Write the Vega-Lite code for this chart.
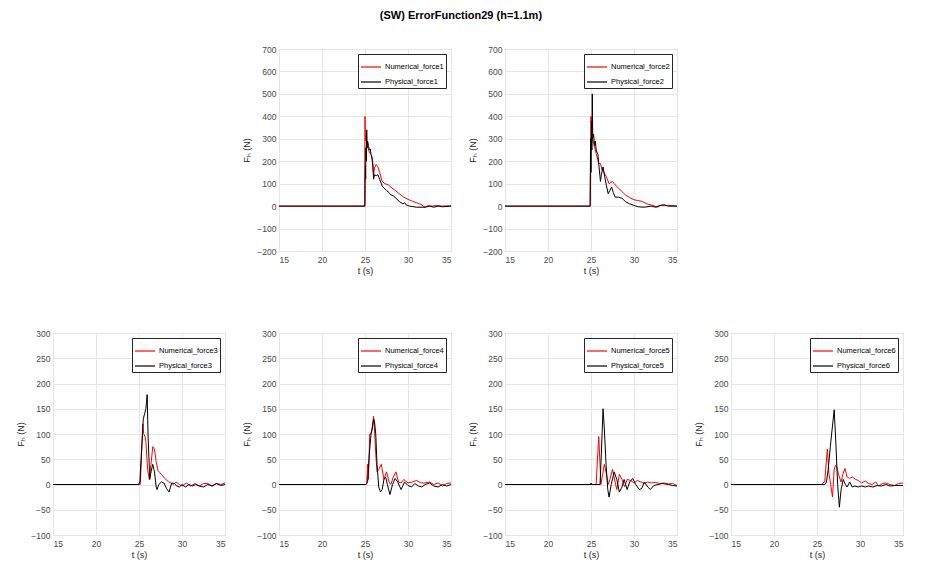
{
  "$schema": "https://vega.github.io/schema/vega-lite/v6.json",
  "padding": {"left": 16, "top": 9, "right": 5, "bottom": 5},
  "background": "white",
  "title": {"text": "(SW) ErrorFunction29 (h=1.1m)", "fontSize": 11, "fontWeight": "bold", "font": "Liberation Sans", "color": "#000000", "anchor": "middle", "offset": 24},
  "config": {
    "view": {"stroke": "#9a9a9a", "strokeWidth": 1},
    "axis": {"labelFont": "Liberation Sans", "labelFontSize": 8.5, "labelColor": "#4a4a4a", "titleFont": "Liberation Sans", "titleFontSize": 9, "titleFontWeight": "normal", "titleColor": "#262626", "grid": true, "gridColor": "#e6e6e6", "gridWidth": 1, "domain": false, "ticks": false, "labelPadding": 4},
    "axisX": {"titlePadding": 3},
    "axisY": {"titlePadding": 5, "labelPadding": 3},
    "legend": {"orient": "top-right", "offset": 5, "strokeColor": "#262626", "fillColor": "white", "padding": 2, "title": null, "labelFont": "Liberation Sans", "labelFontSize": 7.5, "labelColor": "#000000", "symbolType": "stroke", "symbolSize": 400, "symbolStrokeWidth": 1.2, "rowPadding": 0, "labelOffset": 3, "cornerRadius": 0}
  },
  "datasets": {
    "p1": [
      {"s":"Numerical_force1","t":15,"f":0},{"s":"Numerical_force1","t":24.95,"f":0},{"s":"Numerical_force1","t":25.0,"f":400},{"s":"Numerical_force1","t":25.05,"f":290},{"s":"Numerical_force1","t":25.1,"f":320},{"s":"Numerical_force1","t":25.2,"f":270},{"s":"Numerical_force1","t":25.35,"f":260},{"s":"Numerical_force1","t":25.5,"f":240},{"s":"Numerical_force1","t":25.7,"f":230},{"s":"Numerical_force1","t":25.9,"f":200},{"s":"Numerical_force1","t":26.0,"f":140},{"s":"Numerical_force1","t":26.1,"f":170},{"s":"Numerical_force1","t":26.3,"f":185},{"s":"Numerical_force1","t":26.5,"f":175},{"s":"Numerical_force1","t":26.7,"f":150},{"s":"Numerical_force1","t":27.0,"f":110},{"s":"Numerical_force1","t":27.3,"f":100},{"s":"Numerical_force1","t":27.7,"f":95},{"s":"Numerical_force1","t":28.0,"f":85},{"s":"Numerical_force1","t":28.5,"f":70},{"s":"Numerical_force1","t":29.0,"f":55},{"s":"Numerical_force1","t":29.5,"f":40},{"s":"Numerical_force1","t":30.0,"f":30},{"s":"Numerical_force1","t":30.5,"f":22},{"s":"Numerical_force1","t":31.0,"f":15},{"s":"Numerical_force1","t":31.5,"f":8},{"s":"Numerical_force1","t":32.0,"f":-5},{"s":"Numerical_force1","t":32.3,"f":2},{"s":"Numerical_force1","t":32.8,"f":0},{"s":"Numerical_force1","t":33.3,"f":3},{"s":"Numerical_force1","t":34,"f":0},{"s":"Numerical_force1","t":35,"f":2},
      {"s":"Physical_force1","t":15,"f":0},{"s":"Physical_force1","t":25.0,"f":0},{"s":"Physical_force1","t":25.02,"f":100},{"s":"Physical_force1","t":25.05,"f":180},{"s":"Physical_force1","t":25.08,"f":120},{"s":"Physical_force1","t":25.1,"f":260},{"s":"Physical_force1","t":25.15,"f":200},{"s":"Physical_force1","t":25.2,"f":340},{"s":"Physical_force1","t":25.25,"f":260},{"s":"Physical_force1","t":25.3,"f":290},{"s":"Physical_force1","t":25.4,"f":270},{"s":"Physical_force1","t":25.5,"f":250},{"s":"Physical_force1","t":25.6,"f":255},{"s":"Physical_force1","t":25.7,"f":230},{"s":"Physical_force1","t":25.8,"f":220},{"s":"Physical_force1","t":25.9,"f":180},{"s":"Physical_force1","t":26.0,"f":120},{"s":"Physical_force1","t":26.1,"f":140},{"s":"Physical_force1","t":26.3,"f":135},{"s":"Physical_force1","t":26.5,"f":140},{"s":"Physical_force1","t":26.7,"f":120},{"s":"Physical_force1","t":27.0,"f":90},{"s":"Physical_force1","t":27.2,"f":80},{"s":"Physical_force1","t":27.5,"f":70},{"s":"Physical_force1","t":27.8,"f":60},{"s":"Physical_force1","t":28.0,"f":50},{"s":"Physical_force1","t":28.3,"f":45},{"s":"Physical_force1","t":28.6,"f":35},{"s":"Physical_force1","t":29.0,"f":20},{"s":"Physical_force1","t":29.4,"f":10},{"s":"Physical_force1","t":29.6,"f":15},{"s":"Physical_force1","t":29.8,"f":5},{"s":"Physical_force1","t":30.2,"f":0},{"s":"Physical_force1","t":31,"f":-5},{"s":"Physical_force1","t":32,"f":-5},{"s":"Physical_force1","t":32.5,"f":0},{"s":"Physical_force1","t":33,"f":-5},{"s":"Physical_force1","t":33.5,"f":0},{"s":"Physical_force1","t":34,"f":-3},{"s":"Physical_force1","t":35,"f":0}
    ],
    "p2": [
      {"s":"Numerical_force2","t":15,"f":0},{"s":"Numerical_force2","t":24.9,"f":0},{"s":"Numerical_force2","t":25.0,"f":400},{"s":"Numerical_force2","t":25.05,"f":280},{"s":"Numerical_force2","t":25.15,"f":300},{"s":"Numerical_force2","t":25.3,"f":280},{"s":"Numerical_force2","t":25.5,"f":250},{"s":"Numerical_force2","t":25.7,"f":220},{"s":"Numerical_force2","t":25.9,"f":190},{"s":"Numerical_force2","t":26.1,"f":190},{"s":"Numerical_force2","t":26.3,"f":160},{"s":"Numerical_force2","t":26.5,"f":150},{"s":"Numerical_force2","t":26.8,"f":130},{"s":"Numerical_force2","t":27.1,"f":100},{"s":"Numerical_force2","t":27.5,"f":110},{"s":"Numerical_force2","t":27.8,"f":95},{"s":"Numerical_force2","t":28.2,"f":80},{"s":"Numerical_force2","t":28.6,"f":65},{"s":"Numerical_force2","t":29.0,"f":50},{"s":"Numerical_force2","t":29.5,"f":38},{"s":"Numerical_force2","t":30.0,"f":28},{"s":"Numerical_force2","t":30.5,"f":25},{"s":"Numerical_force2","t":31.0,"f":20},{"s":"Numerical_force2","t":31.5,"f":10},{"s":"Numerical_force2","t":32.0,"f":5},{"s":"Numerical_force2","t":32.4,"f":0},{"s":"Numerical_force2","t":32.7,"f":-5},{"s":"Numerical_force2","t":33.2,"f":5},{"s":"Numerical_force2","t":34,"f":3},{"s":"Numerical_force2","t":35,"f":0},
      {"s":"Physical_force2","t":15,"f":0},{"s":"Physical_force2","t":24.9,"f":0},{"s":"Physical_force2","t":24.95,"f":300},{"s":"Physical_force2","t":25.0,"f":150},{"s":"Physical_force2","t":25.05,"f":380},{"s":"Physical_force2","t":25.1,"f":250},{"s":"Physical_force2","t":25.15,"f":500},{"s":"Physical_force2","t":25.2,"f":300},{"s":"Physical_force2","t":25.3,"f":320},{"s":"Physical_force2","t":25.4,"f":270},{"s":"Physical_force2","t":25.5,"f":290},{"s":"Physical_force2","t":25.6,"f":250},{"s":"Physical_force2","t":25.8,"f":230},{"s":"Physical_force2","t":25.95,"f":170},{"s":"Physical_force2","t":26.1,"f":110},{"s":"Physical_force2","t":26.2,"f":140},{"s":"Physical_force2","t":26.4,"f":175},{"s":"Physical_force2","t":26.6,"f":130},{"s":"Physical_force2","t":26.8,"f":90},{"s":"Physical_force2","t":27.0,"f":55},{"s":"Physical_force2","t":27.2,"f":70},{"s":"Physical_force2","t":27.4,"f":85},{"s":"Physical_force2","t":27.6,"f":60},{"s":"Physical_force2","t":27.8,"f":40},{"s":"Physical_force2","t":28.2,"f":40},{"s":"Physical_force2","t":28.6,"f":35},{"s":"Physical_force2","t":29.0,"f":20},{"s":"Physical_force2","t":29.5,"f":10},{"s":"Physical_force2","t":30.0,"f":3},{"s":"Physical_force2","t":30.5,"f":-3},{"s":"Physical_force2","t":31.2,"f":-5},{"s":"Physical_force2","t":32,"f":0},{"s":"Physical_force2","t":32.5,"f":-5},{"s":"Physical_force2","t":33.0,"f":3},{"s":"Physical_force2","t":33.5,"f":5},{"s":"Physical_force2","t":34,"f":0},{"s":"Physical_force2","t":35,"f":0}
    ],
    "p3": [
      {"s":"Numerical_force3","t":15,"f":0},{"s":"Numerical_force3","t":25.15,"f":0},{"s":"Numerical_force3","t":25.3,"f":60},{"s":"Numerical_force3","t":25.45,"f":120},{"s":"Numerical_force3","t":25.55,"f":100},{"s":"Numerical_force3","t":25.7,"f":95},{"s":"Numerical_force3","t":25.8,"f":85},{"s":"Numerical_force3","t":26.0,"f":30},{"s":"Numerical_force3","t":26.2,"f":10},{"s":"Numerical_force3","t":26.4,"f":40},{"s":"Numerical_force3","t":26.6,"f":75},{"s":"Numerical_force3","t":26.8,"f":70},{"s":"Numerical_force3","t":27.0,"f":45},{"s":"Numerical_force3","t":27.2,"f":28},{"s":"Numerical_force3","t":27.6,"f":20},{"s":"Numerical_force3","t":28.0,"f":12},{"s":"Numerical_force3","t":28.4,"f":6},{"s":"Numerical_force3","t":28.8,"f":2},{"s":"Numerical_force3","t":29.0,"f":0},{"s":"Numerical_force3","t":29.3,"f":5},{"s":"Numerical_force3","t":29.7,"f":0},{"s":"Numerical_force3","t":30.0,"f":-3},{"s":"Numerical_force3","t":30.5,"f":3},{"s":"Numerical_force3","t":31.0,"f":-3},{"s":"Numerical_force3","t":31.5,"f":2},{"s":"Numerical_force3","t":32.0,"f":-3},{"s":"Numerical_force3","t":32.5,"f":2},{"s":"Numerical_force3","t":33.0,"f":2},{"s":"Numerical_force3","t":33.5,"f":-3},{"s":"Numerical_force3","t":34.0,"f":2},{"s":"Numerical_force3","t":34.5,"f":0},{"s":"Numerical_force3","t":35,"f":3},
      {"s":"Physical_force3","t":15,"f":0},{"s":"Physical_force3","t":24.95,"f":0},{"s":"Physical_force3","t":25.1,"f":5},{"s":"Physical_force3","t":25.3,"f":70},{"s":"Physical_force3","t":25.5,"f":130},{"s":"Physical_force3","t":25.65,"f":140},{"s":"Physical_force3","t":25.8,"f":150},{"s":"Physical_force3","t":25.95,"f":178},{"s":"Physical_force3","t":26.05,"f":100},{"s":"Physical_force3","t":26.25,"f":10},{"s":"Physical_force3","t":26.4,"f":25},{"s":"Physical_force3","t":26.6,"f":40},{"s":"Physical_force3","t":26.8,"f":25},{"s":"Physical_force3","t":27.0,"f":-5},{"s":"Physical_force3","t":27.1,"f":-10},{"s":"Physical_force3","t":27.3,"f":0},{"s":"Physical_force3","t":27.6,"f":5},{"s":"Physical_force3","t":27.9,"f":3},{"s":"Physical_force3","t":28.2,"f":-8},{"s":"Physical_force3","t":28.5,"f":-15},{"s":"Physical_force3","t":28.8,"f":3},{"s":"Physical_force3","t":29.1,"f":2},{"s":"Physical_force3","t":29.4,"f":-3},{"s":"Physical_force3","t":29.7,"f":-5},{"s":"Physical_force3","t":30.0,"f":0},{"s":"Physical_force3","t":30.4,"f":-5},{"s":"Physical_force3","t":30.8,"f":0},{"s":"Physical_force3","t":31.2,"f":-3},{"s":"Physical_force3","t":31.6,"f":0},{"s":"Physical_force3","t":32.0,"f":-3},{"s":"Physical_force3","t":32.5,"f":-5},{"s":"Physical_force3","t":33.0,"f":0},{"s":"Physical_force3","t":33.5,"f":-3},{"s":"Physical_force3","t":34.0,"f":2},{"s":"Physical_force3","t":34.5,"f":-2},{"s":"Physical_force3","t":35,"f":0}
    ],
    "p4": [
      {"s":"Numerical_force4","t":15,"f":0},{"s":"Numerical_force4","t":25.2,"f":0},{"s":"Numerical_force4","t":25.3,"f":40},{"s":"Numerical_force4","t":25.4,"f":10},{"s":"Numerical_force4","t":25.55,"f":100},{"s":"Numerical_force4","t":25.7,"f":100},{"s":"Numerical_force4","t":25.85,"f":115},{"s":"Numerical_force4","t":26.0,"f":135},{"s":"Numerical_force4","t":26.1,"f":110},{"s":"Numerical_force4","t":26.25,"f":60},{"s":"Numerical_force4","t":26.4,"f":25},{"s":"Numerical_force4","t":26.6,"f":30},{"s":"Numerical_force4","t":26.9,"f":40},{"s":"Numerical_force4","t":27.2,"f":10},{"s":"Numerical_force4","t":27.5,"f":25},{"s":"Numerical_force4","t":27.8,"f":5},{"s":"Numerical_force4","t":28.0,"f":0},{"s":"Numerical_force4","t":28.3,"f":15},{"s":"Numerical_force4","t":28.6,"f":25},{"s":"Numerical_force4","t":28.9,"f":5},{"s":"Numerical_force4","t":29.2,"f":3},{"s":"Numerical_force4","t":29.5,"f":10},{"s":"Numerical_force4","t":30.0,"f":3},{"s":"Numerical_force4","t":30.5,"f":5},{"s":"Numerical_force4","t":31.0,"f":8},{"s":"Numerical_force4","t":31.5,"f":3},{"s":"Numerical_force4","t":32.0,"f":3},{"s":"Numerical_force4","t":32.5,"f":5},{"s":"Numerical_force4","t":33.0,"f":0},{"s":"Numerical_force4","t":33.5,"f":3},{"s":"Numerical_force4","t":34.0,"f":-3},{"s":"Numerical_force4","t":34.5,"f":2},{"s":"Numerical_force4","t":35,"f":3},
      {"s":"Physical_force4","t":15,"f":0},{"s":"Physical_force4","t":25.1,"f":0},{"s":"Physical_force4","t":25.3,"f":5},{"s":"Physical_force4","t":25.5,"f":60},{"s":"Physical_force4","t":25.7,"f":100},{"s":"Physical_force4","t":25.85,"f":110},{"s":"Physical_force4","t":26.0,"f":130},{"s":"Physical_force4","t":26.1,"f":125},{"s":"Physical_force4","t":26.25,"f":100},{"s":"Physical_force4","t":26.4,"f":40},{"s":"Physical_force4","t":26.6,"f":-5},{"s":"Physical_force4","t":26.8,"f":-15},{"s":"Physical_force4","t":27.0,"f":-10},{"s":"Physical_force4","t":27.2,"f":10},{"s":"Physical_force4","t":27.4,"f":15},{"s":"Physical_force4","t":27.6,"f":0},{"s":"Physical_force4","t":27.9,"f":-20},{"s":"Physical_force4","t":28.2,"f":0},{"s":"Physical_force4","t":28.5,"f":12},{"s":"Physical_force4","t":28.8,"f":5},{"s":"Physical_force4","t":29.2,"f":-10},{"s":"Physical_force4","t":29.6,"f":5},{"s":"Physical_force4","t":30.0,"f":-2},{"s":"Physical_force4","t":30.4,"f":-5},{"s":"Physical_force4","t":30.8,"f":2},{"s":"Physical_force4","t":31.2,"f":-3},{"s":"Physical_force4","t":31.6,"f":-5},{"s":"Physical_force4","t":32.0,"f":0},{"s":"Physical_force4","t":32.5,"f":3},{"s":"Physical_force4","t":33.0,"f":-3},{"s":"Physical_force4","t":33.5,"f":-5},{"s":"Physical_force4","t":34.0,"f":0},{"s":"Physical_force4","t":34.5,"f":-3},{"s":"Physical_force4","t":35,"f":0}
    ],
    "p5": [
      {"s":"Numerical_force5","t":15,"f":0},{"s":"Numerical_force5","t":25.6,"f":0},{"s":"Numerical_force5","t":25.75,"f":50},{"s":"Numerical_force5","t":25.9,"f":95},{"s":"Numerical_force5","t":26.05,"f":40},{"s":"Numerical_force5","t":26.15,"f":0},{"s":"Numerical_force5","t":26.35,"f":20},{"s":"Numerical_force5","t":26.55,"f":40},{"s":"Numerical_force5","t":26.8,"f":20},{"s":"Numerical_force5","t":27.0,"f":0},{"s":"Numerical_force5","t":27.2,"f":10},{"s":"Numerical_force5","t":27.5,"f":30},{"s":"Numerical_force5","t":27.8,"f":5},{"s":"Numerical_force5","t":28.0,"f":-10},{"s":"Numerical_force5","t":28.3,"f":20},{"s":"Numerical_force5","t":28.6,"f":10},{"s":"Numerical_force5","t":28.9,"f":-5},{"s":"Numerical_force5","t":29.2,"f":10},{"s":"Numerical_force5","t":29.6,"f":8},{"s":"Numerical_force5","t":30.0,"f":3},{"s":"Numerical_force5","t":30.4,"f":8},{"s":"Numerical_force5","t":30.8,"f":5},{"s":"Numerical_force5","t":31.2,"f":2},{"s":"Numerical_force5","t":31.6,"f":5},{"s":"Numerical_force5","t":32.0,"f":3},{"s":"Numerical_force5","t":32.5,"f":4},{"s":"Numerical_force5","t":33.0,"f":2},{"s":"Numerical_force5","t":33.5,"f":3},{"s":"Numerical_force5","t":34.0,"f":1},{"s":"Numerical_force5","t":34.5,"f":2},{"s":"Numerical_force5","t":35,"f":-2},
      {"s":"Physical_force5","t":15,"f":0},{"s":"Physical_force5","t":24.95,"f":0},{"s":"Physical_force5","t":25.0,"f":3},{"s":"Physical_force5","t":25.05,"f":0},{"s":"Physical_force5","t":26.05,"f":0},{"s":"Physical_force5","t":26.2,"f":60},{"s":"Physical_force5","t":26.4,"f":150},{"s":"Physical_force5","t":26.55,"f":110},{"s":"Physical_force5","t":26.75,"f":40},{"s":"Physical_force5","t":26.95,"f":-10},{"s":"Physical_force5","t":27.1,"f":-25},{"s":"Physical_force5","t":27.35,"f":0},{"s":"Physical_force5","t":27.7,"f":25},{"s":"Physical_force5","t":28.0,"f":10},{"s":"Physical_force5","t":28.3,"f":-15},{"s":"Physical_force5","t":28.6,"f":-5},{"s":"Physical_force5","t":28.85,"f":10},{"s":"Physical_force5","t":29.2,"f":-10},{"s":"Physical_force5","t":29.5,"f":5},{"s":"Physical_force5","t":29.85,"f":12},{"s":"Physical_force5","t":30.2,"f":0},{"s":"Physical_force5","t":30.6,"f":-10},{"s":"Physical_force5","t":30.9,"f":-8},{"s":"Physical_force5","t":31.2,"f":5},{"s":"Physical_force5","t":31.6,"f":-5},{"s":"Physical_force5","t":31.9,"f":-10},{"s":"Physical_force5","t":32.3,"f":-2},{"s":"Physical_force5","t":32.8,"f":0},{"s":"Physical_force5","t":33.3,"f":2},{"s":"Physical_force5","t":34.0,"f":0},{"s":"Physical_force5","t":34.5,"f":-2},{"s":"Physical_force5","t":35,"f":-3}
    ],
    "p6": [
      {"s":"Numerical_force6","t":15,"f":0},{"s":"Numerical_force6","t":25.6,"f":0},{"s":"Numerical_force6","t":25.8,"f":5},{"s":"Numerical_force6","t":25.9,"f":5},{"s":"Numerical_force6","t":26.2,"f":70},{"s":"Numerical_force6","t":26.4,"f":20},{"s":"Numerical_force6","t":26.6,"f":0},{"s":"Numerical_force6","t":26.8,"f":-25},{"s":"Numerical_force6","t":27.0,"f":30},{"s":"Numerical_force6","t":27.15,"f":38},{"s":"Numerical_force6","t":27.3,"f":35},{"s":"Numerical_force6","t":27.5,"f":20},{"s":"Numerical_force6","t":27.8,"f":5},{"s":"Numerical_force6","t":28.0,"f":20},{"s":"Numerical_force6","t":28.25,"f":32},{"s":"Numerical_force6","t":28.5,"f":15},{"s":"Numerical_force6","t":28.8,"f":12},{"s":"Numerical_force6","t":29.1,"f":15},{"s":"Numerical_force6","t":29.5,"f":10},{"s":"Numerical_force6","t":29.8,"f":8},{"s":"Numerical_force6","t":30.2,"f":3},{"s":"Numerical_force6","t":30.6,"f":7},{"s":"Numerical_force6","t":31.0,"f":2},{"s":"Numerical_force6","t":31.4,"f":0},{"s":"Numerical_force6","t":31.8,"f":5},{"s":"Numerical_force6","t":32.2,"f":-3},{"s":"Numerical_force6","t":32.6,"f":2},{"s":"Numerical_force6","t":33.0,"f":3},{"s":"Numerical_force6","t":33.5,"f":0},{"s":"Numerical_force6","t":34.0,"f":-2},{"s":"Numerical_force6","t":34.5,"f":2},{"s":"Numerical_force6","t":35,"f":3},
      {"s":"Physical_force6","t":15,"f":0},{"s":"Physical_force6","t":25.9,"f":0},{"s":"Physical_force6","t":26.1,"f":5},{"s":"Physical_force6","t":26.3,"f":30},{"s":"Physical_force6","t":26.55,"f":75},{"s":"Physical_force6","t":26.7,"f":100},{"s":"Physical_force6","t":27.0,"f":148},{"s":"Physical_force6","t":27.2,"f":80},{"s":"Physical_force6","t":27.4,"f":0},{"s":"Physical_force6","t":27.6,"f":-45},{"s":"Physical_force6","t":27.8,"f":-10},{"s":"Physical_force6","t":28.05,"f":10},{"s":"Physical_force6","t":28.3,"f":0},{"s":"Physical_force6","t":28.5,"f":-5},{"s":"Physical_force6","t":28.8,"f":5},{"s":"Physical_force6","t":29.1,"f":-5},{"s":"Physical_force6","t":29.4,"f":-3},{"s":"Physical_force6","t":29.8,"f":-5},{"s":"Physical_force6","t":30.2,"f":-3},{"s":"Physical_force6","t":30.6,"f":-5},{"s":"Physical_force6","t":31.0,"f":-3},{"s":"Physical_force6","t":31.5,"f":-5},{"s":"Physical_force6","t":32.0,"f":-2},{"s":"Physical_force6","t":32.5,"f":-3},{"s":"Physical_force6","t":33.0,"f":0},{"s":"Physical_force6","t":33.5,"f":-3},{"s":"Physical_force6","t":34.0,"f":-2},{"s":"Physical_force6","t":35,"f":-2}
    ]
  },
  "columns": 4,
  "spacing": {"row": 82, "column": 54},
  "bounds": "flush",
  "align": "all",
  "concat": [
    {"width":172,"height":202,"data":{"values":[{"t":0}]},"mark":{"type":"point","opacity":0},"view":{"stroke":null}},
    {"width":172,"height":202,"data":{"name":"p1"},"mark":{"type":"line","strokeWidth":1},
     "encoding":{"x":{"field":"t","type":"quantitative","scale":{"domain":[15,35],"nice":false,"zero":false},"axis":{"values":[15,20,25,30,35],"title":"t (s)"}},
      "y":{"field":"f","type":"quantitative","scale":{"domain":[-200,700],"nice":false},"axis":{"values":[-200,-100,0,100,200,300,400,500,600,700],"title":"Fₕ (N)"}},
      "color":{"field":"s","type":"nominal","sort":null,"scale":{"domain":["Numerical_force1","Physical_force1"],"range":["#ff0000","#000000"]}}}},
    {"width":172,"height":202,"data":{"name":"p2"},"mark":{"type":"line","strokeWidth":1},
     "encoding":{"x":{"field":"t","type":"quantitative","scale":{"domain":[15,35],"nice":false,"zero":false},"axis":{"values":[15,20,25,30,35],"title":"t (s)"}},
      "y":{"field":"f","type":"quantitative","scale":{"domain":[-200,700],"nice":false},"axis":{"values":[-200,-100,0,100,200,300,400,500,600,700],"title":"Fₕ (N)"}},
      "color":{"field":"s","type":"nominal","sort":null,"scale":{"domain":["Numerical_force2","Physical_force2"],"range":["#ff0000","#000000"]}}}},
    {"width":172,"height":202,"data":{"values":[{"t":0}]},"mark":{"type":"point","opacity":0},"view":{"stroke":null}},
    {"width":172,"height":202,"data":{"name":"p3"},"mark":{"type":"line","strokeWidth":1},
     "encoding":{"x":{"field":"t","type":"quantitative","scale":{"domain":[15,35],"nice":false,"zero":false},"axis":{"values":[15,20,25,30,35],"title":"t (s)"}},
      "y":{"field":"f","type":"quantitative","scale":{"domain":[-100,300],"nice":false},"axis":{"values":[-100,-50,0,50,100,150,200,250,300],"title":"Fₕ (N)"}},
      "color":{"field":"s","type":"nominal","sort":null,"scale":{"domain":["Numerical_force3","Physical_force3"],"range":["#ff0000","#000000"]}}}},
    {"width":172,"height":202,"data":{"name":"p4"},"mark":{"type":"line","strokeWidth":1},
     "encoding":{"x":{"field":"t","type":"quantitative","scale":{"domain":[15,35],"nice":false,"zero":false},"axis":{"values":[15,20,25,30,35],"title":"t (s)"}},
      "y":{"field":"f","type":"quantitative","scale":{"domain":[-100,300],"nice":false},"axis":{"values":[-100,-50,0,50,100,150,200,250,300],"title":"Fₕ (N)"}},
      "color":{"field":"s","type":"nominal","sort":null,"scale":{"domain":["Numerical_force4","Physical_force4"],"range":["#ff0000","#000000"]}}}},
    {"width":172,"height":202,"data":{"name":"p5"},"mark":{"type":"line","strokeWidth":1},
     "encoding":{"x":{"field":"t","type":"quantitative","scale":{"domain":[15,35],"nice":false,"zero":false},"axis":{"values":[15,20,25,30,35],"title":"t (s)"}},
      "y":{"field":"f","type":"quantitative","scale":{"domain":[-100,300],"nice":false},"axis":{"values":[-100,-50,0,50,100,150,200,250,300],"title":"Fₕ (N)"}},
      "color":{"field":"s","type":"nominal","sort":null,"scale":{"domain":["Numerical_force5","Physical_force5"],"range":["#ff0000","#000000"]}}}},
    {"width":172,"height":202,"data":{"name":"p6"},"mark":{"type":"line","strokeWidth":1},
     "encoding":{"x":{"field":"t","type":"quantitative","scale":{"domain":[15,35],"nice":false,"zero":false},"axis":{"values":[15,20,25,30,35],"title":"t (s)"}},
      "y":{"field":"f","type":"quantitative","scale":{"domain":[-100,300],"nice":false},"axis":{"values":[-100,-50,0,50,100,150,200,250,300],"title":"Fₕ (N)"}},
      "color":{"field":"s","type":"nominal","sort":null,"scale":{"domain":["Numerical_force6","Physical_force6"],"range":["#ff0000","#000000"]}}}}
  ],
  "resolve": {"scale": {"color": "independent", "x": "independent", "y": "independent"}, "legend": {"color": "independent"}}
}
